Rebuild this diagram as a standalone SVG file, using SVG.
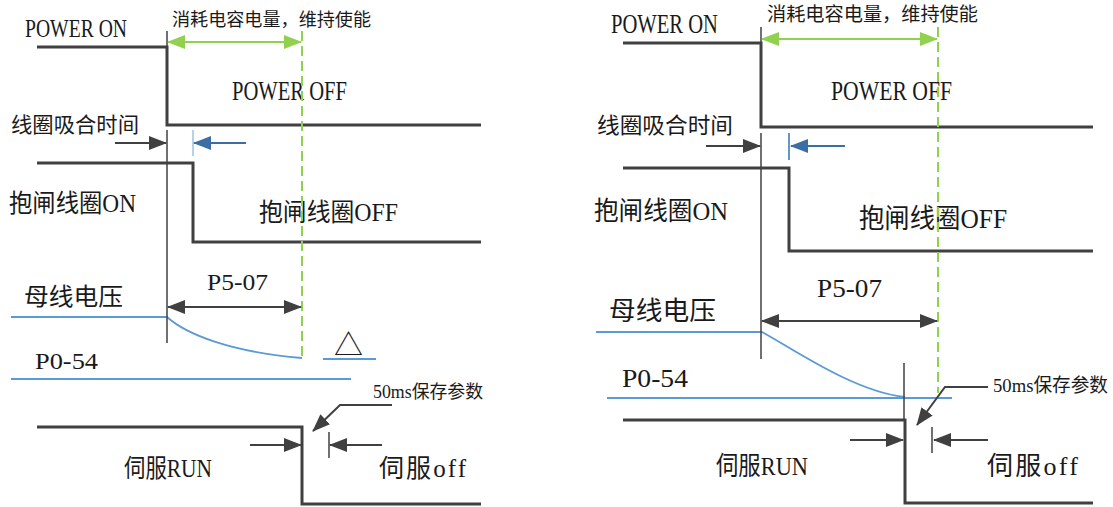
<svg xmlns="http://www.w3.org/2000/svg" width="1113" height="507" viewBox="0 0 1113 507">
<style>
.t{font-family:"Liberation Serif","Noto Sans CJK SC",serif;fill:#1a1a1a}
.c{font-family:"Noto Sans CJK SC","Liberation Sans",sans-serif;fill:#1a1a1a}
.sig{fill:none;stroke:#404040;stroke-width:3}
.thin{fill:none;stroke:#404040;stroke-width:1.5}
.bus{fill:none;stroke:#5B9BD5;stroke-width:1.8}
.dash{fill:none;stroke:#92D050;stroke-width:2;stroke-dasharray:10 5}
.ad{fill:none;stroke:#404040;stroke-width:2;marker-end:url(#ahD)}
.add{fill:none;stroke:#404040;stroke-width:2;marker-end:url(#ahD);marker-start:url(#ahD)}
.ag{fill:none;stroke:#92D050;stroke-width:2;marker-end:url(#ahG);marker-start:url(#ahG)}
.ab{fill:none;stroke:#3A6EA5;stroke-width:2;marker-end:url(#ahB)}
</style>
<defs>
<marker id="ahD" viewBox="0 0 18 14" refX="17" refY="7" markerWidth="18" markerHeight="14" markerUnits="userSpaceOnUse" orient="auto-start-reverse"><path d="M0,0 L18,7 L0,14 z" fill="#404040"/></marker>
<marker id="ahG" viewBox="0 0 18 14" refX="17" refY="7" markerWidth="18" markerHeight="14" markerUnits="userSpaceOnUse" orient="auto-start-reverse"><path d="M0,0 L18,7 L0,14 z" fill="#92D050"/></marker>
<marker id="ahB" viewBox="0 0 18 14" refX="17" refY="7" markerWidth="18" markerHeight="14" markerUnits="userSpaceOnUse" orient="auto-start-reverse"><path d="M0,0 L18,7 L0,14 z" fill="#3A6EA5"/></marker>
</defs>

<!-- LEFT DIAGRAM -->
<g id="left-power">
<path class="sig" d="M37,47 H167 V125 H481"/>
<text class="t" x="25" y="37" font-size="26" textLength="102" lengthAdjust="spacingAndGlyphs">POWER ON</text>
<text class="t" x="232" y="100" font-size="27" textLength="115" lengthAdjust="spacingAndGlyphs">POWER OFF</text>
<text class="c" x="172" y="26" font-size="18" textLength="199" lengthAdjust="spacingAndGlyphs">消耗电容电量，维持使能</text>
</g>
<g id="left-coil">
<path class="sig" d="M37,163 H193 V242 H481"/>
<text class="c" x="11" y="132" font-size="21" textLength="128" lengthAdjust="spacingAndGlyphs">线圈吸合时间</text>
<text class="t" x="9" y="212" font-size="25" textLength="127" lengthAdjust="spacingAndGlyphs">抱闸线圈ON</text>
<text class="t" x="259" y="221" font-size="25" textLength="139" lengthAdjust="spacingAndGlyphs">抱闸线圈OFF</text>
</g>
<g id="left-bus">
<path class="bus" d="M11,317 H167 C186,334 230,352 302,358"/>
<path class="bus" d="M11,379 H351"/>
<path class="bus" d="M323,359 H376"/>
<text class="c" x="334" y="356" font-size="29">△</text>
<text class="c" x="24" y="305" font-size="24" textLength="99" lengthAdjust="spacingAndGlyphs">母线电压</text>
<text class="t" x="35" y="369" font-size="24" textLength="63" lengthAdjust="spacingAndGlyphs">P0-54</text>
<text class="t" x="207" y="290" font-size="24" textLength="61" lengthAdjust="spacingAndGlyphs">P5-07</text>
</g>
<g id="left-servo">
<path class="sig" d="M37,427 H302 V504 H481"/>
<text class="t" x="373" y="398" font-size="18" textLength="110" lengthAdjust="spacingAndGlyphs">50ms保存参数</text>
<text class="t" x="124" y="477" font-size="25" textLength="88" lengthAdjust="spacingAndGlyphs">伺服RUN</text>
<text class="t" x="379" y="477" font-size="25" textLength="87" lengthAdjust="spacing">伺服off</text>
</g>

<!-- RIGHT DIAGRAM -->
<g id="right-power">
<path class="sig" d="M623,43 H761 V127 H1093"/>
<text class="t" x="611" y="33" font-size="27" textLength="107" lengthAdjust="spacingAndGlyphs">POWER ON</text>
<text class="t" x="831" y="100" font-size="27" textLength="121" lengthAdjust="spacingAndGlyphs">POWER OFF</text>
<text class="c" x="767" y="21" font-size="19" textLength="211" lengthAdjust="spacingAndGlyphs">消耗电容电量，维持使能</text>
</g>
<g id="right-coil">
<path class="sig" d="M623,168 H789 V251 H1093"/>
<text class="c" x="597" y="133" font-size="22" textLength="136" lengthAdjust="spacingAndGlyphs">线圈吸合时间</text>
<text class="t" x="594" y="220" font-size="26" textLength="134" lengthAdjust="spacingAndGlyphs">抱闸线圈ON</text>
<text class="t" x="859" y="228" font-size="27" textLength="148" lengthAdjust="spacingAndGlyphs">抱闸线圈OFF</text>
</g>
<g id="right-bus">
<path class="bus" d="M596,332 H762 C795,350 855,392 905,397"/>
<path class="bus" d="M607,398 H952"/>
<text class="c" x="609" y="320" font-size="26" textLength="107" lengthAdjust="spacingAndGlyphs">母线电压</text>
<text class="t" x="622" y="387" font-size="26" textLength="66" lengthAdjust="spacingAndGlyphs">P0-54</text>
<text class="t" x="817" y="297" font-size="26" textLength="65" lengthAdjust="spacingAndGlyphs">P5-07</text>
</g>
<g id="right-servo">
<path class="sig" d="M623,420 H905 V503 H1093"/>
<text class="t" x="993" y="392" font-size="19" textLength="115" lengthAdjust="spacingAndGlyphs">50ms保存参数</text>
<text class="t" x="716" y="475" font-size="26" textLength="92" lengthAdjust="spacingAndGlyphs">伺服RUN</text>
<text class="t" x="987" y="475" font-size="26" textLength="91" lengthAdjust="spacing">伺服off</text>
</g>

<g id="connectors">
<!-- left -->
<path class="thin" d="M167,31 V47"/>
<path class="thin" d="M167,130 V343"/>
<path class="dash" d="M302,31 V359"/>
<path class="ag" d="M168,42 H301"/>
<path class="ad" d="M115,143 H166"/>
<path d="M193,130 V156" stroke="#9DC3E6" stroke-width="1.5" fill="none"/>
<path class="ab" d="M246,143 H194"/>
<path class="add" d="M168,307 H301"/>
<path class="ad" d="M392,405 H340 L313,431"/>
<path class="ad" d="M250,445 H301"/>
<path class="thin" d="M329,432 V458"/>
<path class="ad" d="M382,445 H330"/>
<!-- right -->
<path class="thin" d="M761,27 V43"/>
<path class="thin" d="M761,133 V359"/>
<path class="dash" d="M938,27 V393"/>
<path class="ag" d="M762,39 H937"/>
<path class="ad" d="M706,146 H760"/>
<path d="M789,133 V160" stroke="#2E75B6" stroke-width="1.5" fill="none"/>
<path class="ab" d="M845,146 H791"/>
<path class="add" d="M762,321 H937"/>
<path class="thin" d="M904,363 V420"/>
<path class="ad" d="M988,387 H945 L917,425"/>
<path class="ad" d="M850,440 H903"/>
<path class="thin" d="M932,427 V453"/>
<path class="ad" d="M988,440 H934"/>
</g>
</svg>
